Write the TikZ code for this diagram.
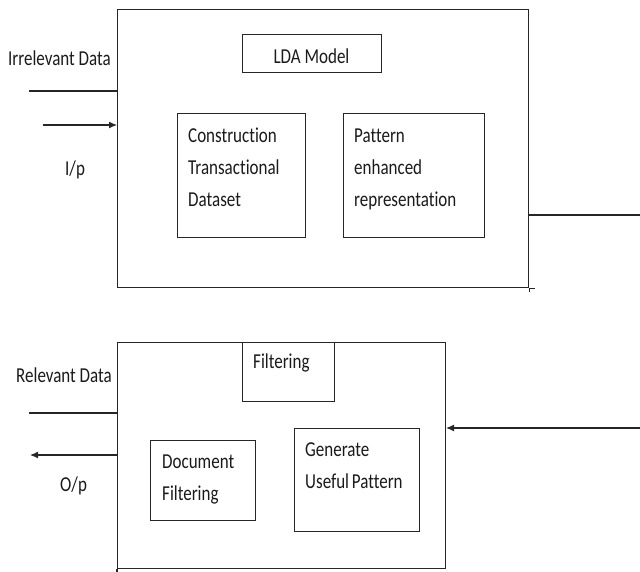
\documentclass[tikz,border=0pt]{standalone}
\usepackage{fontspec}
\usepackage{graphicx}
\usepackage{xcolor}
\usepackage{tikz}
\usetikzlibrary{arrows.meta,calc}
\setmainfont{Carlito}[Ligatures=NoCommon]
\tikzset{>={Latex[length=8pt,width=7pt]}}
\definecolor{LineInk}{HTML}{262626}
\definecolor{TextInk}{HTML}{1A1A1A}
\newcommand{\boxfont}{\fontsize{17}{25.6}\selectfont}
\newcommand{\tall}[1]{\scalebox{1}[1.25]{\begin{tabular}[t]{@{}l@{}}#1\end{tabular}}}
\tikzset{
  frame/.style={draw=LineInk, line width=1.1pt, anchor=north west, inner sep=0pt},
  txt/.style={anchor=base west, inner sep=0pt, font=\boxfont, text=TextInk},
  wire/.style={draw=LineInk, line width=1.1pt}
}

\begin{document}
\begin{tikzpicture}[x=1pt,y=-1pt]
  \useasboundingbox (0,0) rectangle (640,571);
  % upper block
  \node[frame, minimum width=411, minimum height=278] (lda) at (117,9) {};
  \node[frame, minimum width=139, minimum height=38] (ldabox) at (242,34) {};
  \node[frame, minimum width=128, minimum height=124] (construct) at (177,113) {};
  \node[frame, minimum width=141, minimum height=124] (pattern) at (343,113) {};
  \draw[wire] (lda.south east) -- ++(0,4);  % overshoot as drawn
  \draw[wire] (lda.south east) -- ++(6,0);
  % lower block
  \node[frame, minimum width=328, minimum height=226] (filt) at (117,342) {};
  \node[frame, minimum width=92, minimum height=59] (filtbox) at (242,342) {};
  \node[frame, minimum width=105, minimum height=80] (docfilt) at (150,440) {};
  \node[frame, minimum width=125, minimum height=103] (genpat) at (294,428) {};
  \draw[wire] (filt.south west) -- ++(0,3);
  % texts
  \node[txt, anchor=base] (ldatxt) at (311.5,63.5) {\tall{LDA Model}};
  \node[txt] (constructtxt) at (188,142.5) {\tall{Construction\\Transactional\\Dataset}};
  \node[txt] (patterntxt) at (354,142.5) {\tall{Pattern\\enhanced\\representation}};
  \node[txt] (filttxt) at (253,368.5) {\tall{Filtering}};
  \node[txt] (docfilttxt) at (162,468) {\tall{Document\\Filtering}};
  \node[txt] (genpattxt) at (305,456) {\tall{Generate\\Useful\,Pattern}};
  \node[txt] (irrtxt) at (8,65) {\tall{Irrelevant Data}};
  \node[txt] (iptxt) at (65,175) {\tall{I/p}};
  \node[txt] (reltxt) at (16,382) {\tall{Relevant Data}};
  \node[txt] (optxt) at (60,491) {\tall{O/p}};
  % connectors
  \coordinate (irrin) at (29,91);
  \coordinate (ipin) at (43,125);
  \coordinate (ldaout) at (640,215);
  \coordinate (filtin) at (640,428);
  \coordinate (relout) at (29,413);
  \coordinate (opout) at (30,455);
  \draw[wire] (irrin) -- (irrin -| lda.west);
  \draw[wire, ->] (ipin) -- (ipin -| lda.west);
  \draw[wire] (ldaout -| lda.east) -- (ldaout);
  \draw[wire, ->] (filtin) -- (filtin -| filt.east);
  \draw[wire] (relout) -- (relout -| filt.west);
  \draw[wire, ->] (opout -| filt.west) -- (opout);
\end{tikzpicture}
\end{document}
